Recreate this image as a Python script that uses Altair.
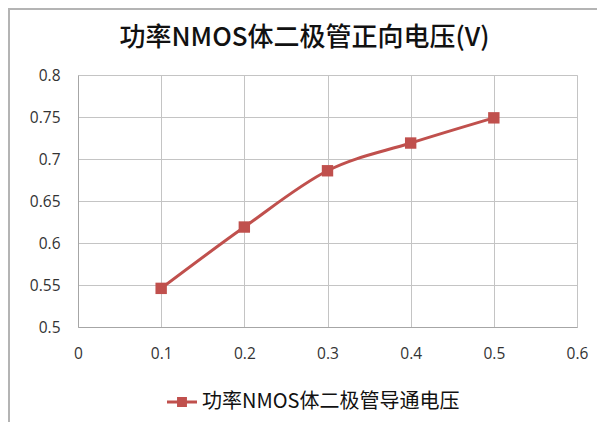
import altair as alt
import pandas as pd

x_vals = [0.1, 0.2, 0.3, 0.4, 0.5]
y_vals = [0.546, 0.619, 0.686, 0.719, 0.749]
series_name = "功率NMOS体二极管导通电压"
title_text = "功率NMOS体二极管正向电压(V)"
x_ticks = [0, 0.1, 0.2, 0.3, 0.4, 0.5, 0.6]
y_ticks = [0.5, 0.55, 0.6, 0.65, 0.7, 0.75, 0.8]

df = pd.DataFrame({"x": x_vals, "y": y_vals, "s": [series_name] * len(x_vals)})

RED = "#C0504D"
GRID = "#c4c4c4"
FONT = "Noto Sans CJK SC"
LABEL_FONT = "Open Sans"

xenc = alt.X("x:Q", scale=alt.Scale(domain=[0, 0.6], nice=False),
             axis=alt.Axis(values=x_ticks, title=None, ticks=False, labelPadding=19,
                           labelFontSize=15.5, labelColor="#333333", labelFont=LABEL_FONT,
                           gridColor=GRID, domainColor="#a6a6a6",
                           labelFlush=False, format="~g"))
yenc = alt.Y("y:Q", scale=alt.Scale(domain=[0.5, 0.8], nice=False, zero=False),
             axis=alt.Axis(values=y_ticks, title=None, ticks=False, labelPadding=18,
                           labelFontSize=15.5, labelColor="#333333", labelFont=LABEL_FONT,
                           gridColor=GRID, domainColor="#a6a6a6", format="~g"))

line = alt.Chart(df).mark_line(interpolate="monotone", strokeWidth=3, color=RED).encode(
    x=xenc, y=yenc
)
pts = alt.Chart(df).mark_point(shape="square", filled=True, size=130, opacity=1).encode(
    x=xenc, y=yenc,
    color=alt.Color("s:N", scale=alt.Scale(range=[RED]),
                    legend=alt.Legend(title=None, orient="none", legendX=89, legendY=312,
                                      symbolType="M-1,-0.1H1V0.1H-1Z M-0.33,-0.33H0.33V0.33H-0.33Z",
                                      symbolSize=900, symbolFillColor=RED, symbolStrokeWidth=0,
                                      labelFontSize=20, labelFont=FONT, labelColor="#111111",
                                      labelLimit=400, symbolOffset=0, labelOffset=5))
)

frame_left = alt.Chart(df).mark_rule(color="#b4b4b4", strokeWidth=2).encode(
    x=alt.value(-69), y=alt.value(-67), y2=alt.value(360)
)
frame_top = alt.Chart(df).mark_rule(color="#b4b4b4", strokeWidth=2).encode(
    x=alt.value(-70), x2=alt.value(540), y=alt.value(-66)
)

chart = (frame_left + frame_top + line + pts).properties(
    width=499, height=252,
    autosize=alt.AutoSizeParams(type="none"),
    padding={"left": 70, "top": 67, "right": 20, "bottom": 95},
    title=alt.TitleParams(title_text, fontSize=26, font=FONT, fontWeight=500,
                          color="#111111", dx=-23, offset=-44, anchor="middle"),
).configure_view(stroke="#a6a6a6").configure(background="white")

chart.save("out.html", embed_options={"renderer": "svg", "actions": False})
